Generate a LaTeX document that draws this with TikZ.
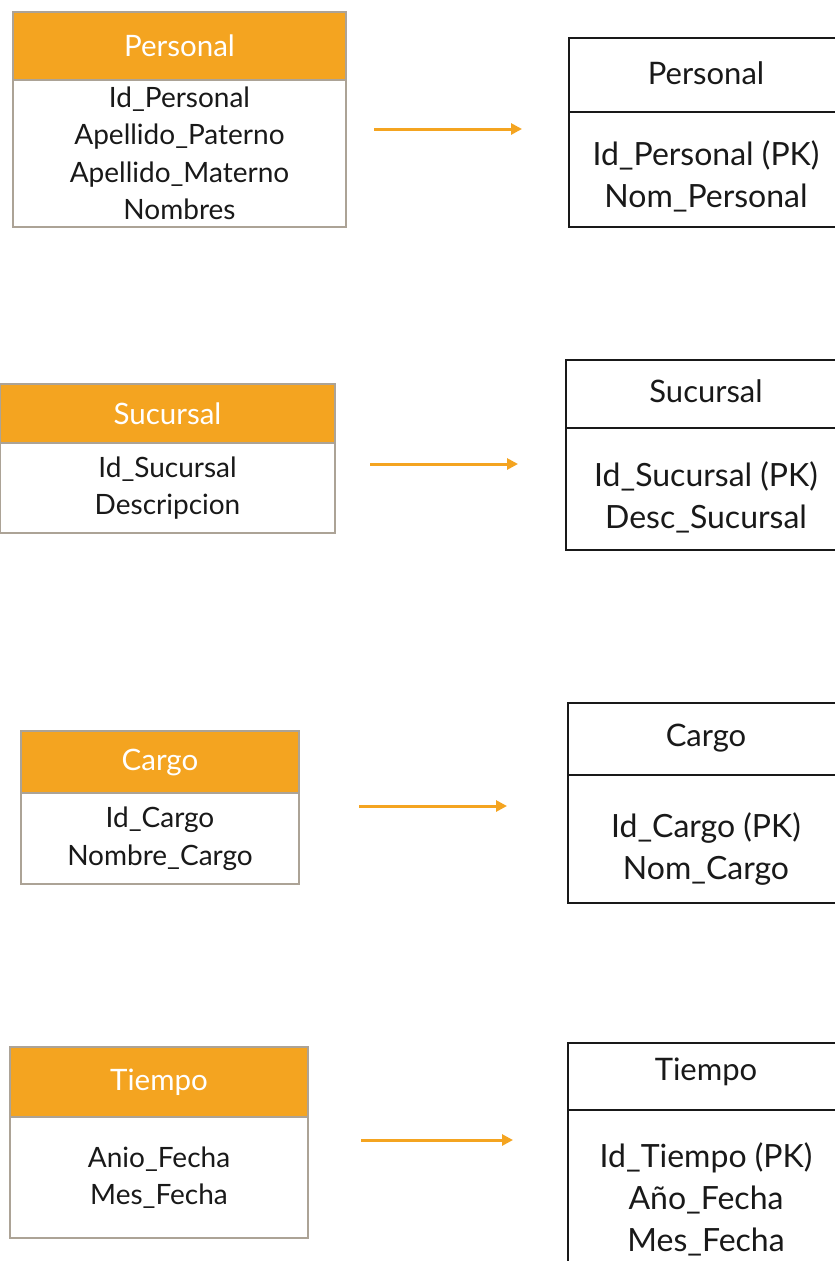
\documentclass[tikz,border=0pt]{standalone}
\usepackage{fontspec}
\setmainfont{Lato}
\usetikzlibrary{arrows.meta}
\definecolor{hdr}{RGB}{244,164,32}
\definecolor{frame}{RGB}{172,163,150}
\definecolor{ink}{RGB}{25,25,25}
\tikzset{
  hdrbox/.style={draw=frame, line width=1.5pt, fill=hdr, text=white,
    font=\fontsize{29.5}{34}\selectfont, inner sep=0pt, outer sep=0pt, anchor=north west},
  fieldbox/.style={draw=frame, line width=1.5pt, fill=white, text=ink, align=center,
    font=\fontsize{28}{37.5}\selectfont, inner sep=0pt, outer sep=0pt, anchor=north west},
  dimbox/.style={draw=ink, line width=1.6pt, inner sep=0pt, outer sep=0pt, anchor=north west},
  dimtitle/.style={text=ink, font=\fontsize{31}{36}\selectfont, inner sep=0pt},
  dimfields/.style={text=ink, align=center, font=\fontsize{32}{42}\selectfont, inner sep=0pt},
  flow/.style={draw=hdr, line width=3pt, -{Triangle[length=11pt,width=11pt]}},
}
% source table: name, left, top, right, header bottom, bottom, title, fields
\newcommand\srctable[8]{%
  \node[hdrbox, minimum width={(#4-#2)*1pt}, minimum height={(#5-#3)*1pt}] (#1h) at (#2,#3) {#7};
  \node[fieldbox, minimum width={(#4-#2)*1pt}, minimum height={(#6-#5)*1pt}] (#1b) at (#2,#5) {#8};
}
% dimension table: name, left, top, divider, bottom, title, title y, fields, fields y
\newcommand\dimtable[9]{%
  \node[dimbox, minimum width={(860-#2)*1pt}, minimum height={(#5-#3)*1pt}] (#1) at (#2,#3) {};
  \coordinate (#1d) at (#2,#4);
  \draw[ink, line width=1.6pt] (#1d) -- (#1d -| #1.east);
  \node[dimtitle] (#1t) at (706,#7) {#6};
  \node[dimfields] (#1f) at (706,#9) {#8};
}
\begin{document}
\begin{tikzpicture}[x=1pt,y=-1pt]
  \useasboundingbox[fill=white] (0,0) rectangle (835,1261);
  \clip (0,0) rectangle (835,1261);

  % source tables
  \srctable{sp}{13}{12}{346}{80}{227}{Personal}{Id\_Personal\\Apellido\_Paterno\\Apellido\_Materno\\Nombres}
  \srctable{ss}{0}{384}{335}{443}{533}{Sucursal}{Id\_Sucursal\\Descripcion}
  \srctable{sc}{21}{731}{299}{793}{884}{Cargo}{Id\_Cargo\\Nombre\_Cargo}
  \srctable{st}{10}{1047}{308}{1117}{1238}{Tiempo}{Anio\_Fecha\\Mes\_Fecha}

  % dimension tables
  \dimtable{dp}{569}{38}{112}{227}{Personal}{73}{Id\_Personal (PK)\\Nom\_Personal}{176}
  \dimtable{ds}{566}{360}{428}{550}{Sucursal}{391}{Id\_Sucursal (PK)\\Desc\_Sucursal}{497}
  \dimtable{dc}{568}{703}{775}{903}{Cargo}{738}{Id\_Cargo (PK)\\Nom\_Cargo}{849}
  \dimtable{dt}{568}{1043}{1110}{1280}{Tiempo}{1072}{Id\_Tiempo (PK)\\Año\_Fecha\\Mes\_Fecha}{1199}

  % transformation arrows
  \coordinate (a1) at (374,129); \coordinate (b1) at (522,129);
  \coordinate (a2) at (370,464); \coordinate (b2) at (518,464);
  \coordinate (a3) at (359,806); \coordinate (b3) at (507,806);
  \coordinate (a4) at (361,1140); \coordinate (b4) at (513,1140);
  \draw[flow] (a1) -- (b1);
  \draw[flow] (a2) -- (b2);
  \draw[flow] (a3) -- (b3);
  \draw[flow] (a4) -- (b4);
\end{tikzpicture}
\end{document}
